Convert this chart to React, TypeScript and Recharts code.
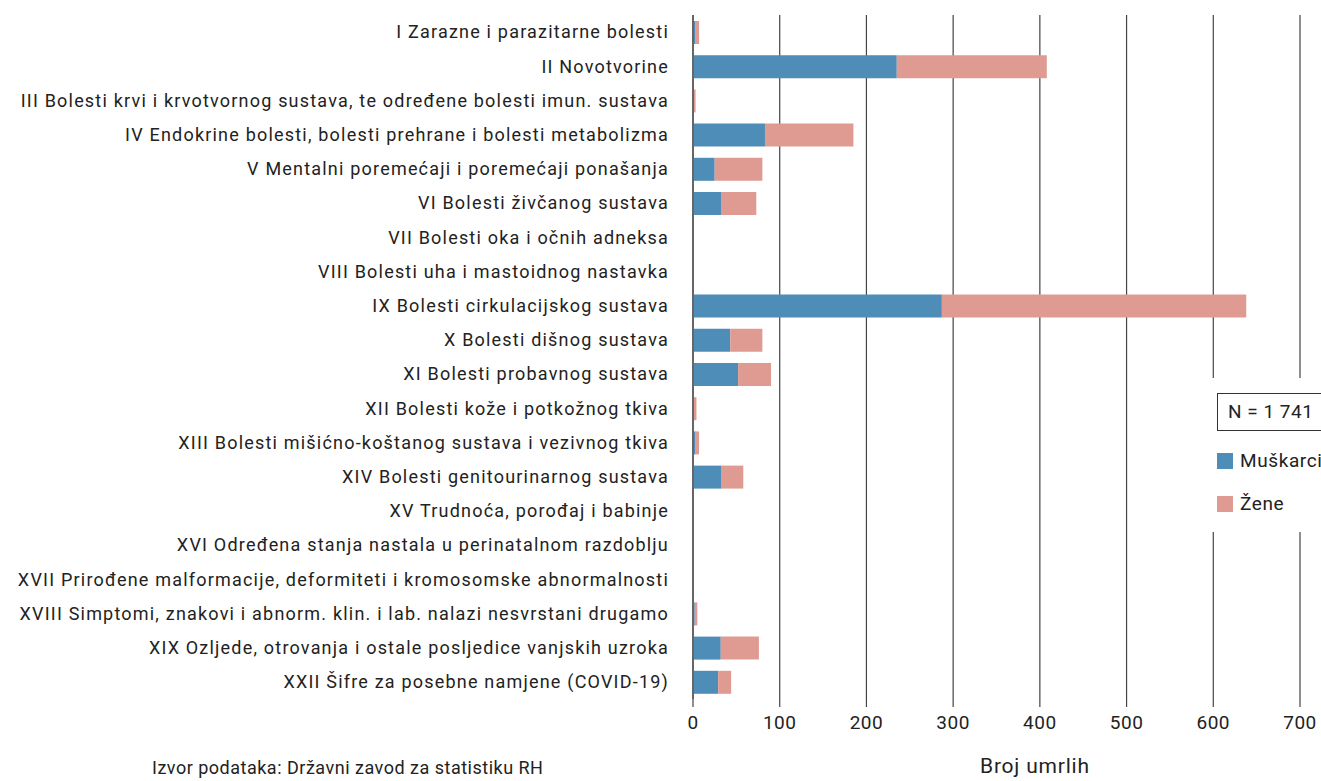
import { BarChart, Bar, XAxis, YAxis, CartesianGrid } from 'recharts'

const categories = [
  'I Zarazne i parazitarne bolesti',
  'II Novotvorine',
  'III Bolesti krvi i krvotvornog sustava, te određene bolesti imun. sustava',
  'IV Endokrine bolesti, bolesti prehrane i bolesti metabolizma',
  'V Mentalni poremećaji i poremećaji ponašanja',
  'VI Bolesti živčanog sustava',
  'VII Bolesti oka i očnih adneksa',
  'VIII Bolesti uha i mastoidnog nastavka',
  'IX Bolesti cirkulacijskog sustava',
  'X Bolesti dišnog sustava',
  'XI Bolesti probavnog sustava',
  'XII Bolesti kože i potkožnog tkiva',
  'XIII Bolesti mišićno-koštanog sustava i vezivnog tkiva',
  'XIV Bolesti genitourinarnog sustava',
  'XV Trudnoća, porođaj i babinje',
  'XVI Određena stanja nastala u perinatalnom razdoblju',
  'XVII Prirođene malformacije, deformiteti i kromosomske abnormalnosti',
  'XVIII Simptomi, znakovi i abnorm. klin. i lab. nalazi nesvrstani drugamo',
  'XIX Ozljede, otrovanja i ostale posljedice vanjskih uzroka',
  'XXII Šifre za posebne namjene (COVID-19)',
]

const muskarci = [3, 235, 0, 83, 25, 33, 0, 0, 287, 43, 52, 0, 3, 33, 0, 0, 0, 2, 32, 29]
const zene = [4, 173, 3, 102, 55, 40, 0, 0, 351, 37, 38, 4, 4, 25, 0, 0, 0, 3, 44, 15]

const xTicks = [0, 100, 200, 300, 400, 500, 600, 700]

const BLUE = '#4e8db8'
const PINK = '#df9b91'
const FONT = 'Roboto, "Noto Sans", sans-serif'

const data = categories.map((name, i) => ({ name, m: muskarci[i], z: zene[i] }))

export default function App() {
  return (
    <div style={{ position: 'relative', width: 1321, height: 781, overflow: 'hidden', fontFamily: FONT, background: '#fff' }}>
      <style>{'body{margin:0}'}</style>
      <BarChart
        width={1321}
        height={781}
        layout="vertical"
        data={data}
        margin={{ top: 15, right: 21, bottom: 52, left: 0 }}
        barCategoryGap={11}
      >
        <CartesianGrid horizontal={false} vertical stroke="#444" strokeWidth={1.2} />
        <XAxis
          type="number"
          domain={[0, 700]}
          ticks={xTicks}
          axisLine={false}
          tickSize={8}
          tickLine={{ stroke: '#444', strokeWidth: 1.2 }}
          tickMargin={9}
          height={30}
          tick={{ fill: '#222', fontSize: 19, fontFamily: FONT, letterSpacing: 0.5 }}
          interval={0}
        />
        <YAxis
          type="category"
          dataKey="name"
          width={693}
          axisLine={{ stroke: '#666', strokeWidth: 2 }}
          tickLine={false}
          tickSize={0}
          tickMargin={24}
          interval={0}
          tick={{ fill: '#222', fontSize: 18, fontFamily: FONT, letterSpacing: 1.2 }}
        />
        <Bar dataKey="m" stackId="a" fill={BLUE} barSize={23} isAnimationActive={false} />
        <Bar dataKey="z" stackId="a" fill={PINK} barSize={23} isAnimationActive={false} />
      </BarChart>

      <div style={{ position: 'absolute', left: 1205, top: 378, width: 130, height: 154, background: '#fff' }}>
        <div style={{ position: 'absolute', left: 12, top: 15, width: 120, height: 38, border: '1px solid #333', boxSizing: 'border-box', fontSize: 19, color: '#222', lineHeight: '36px', paddingLeft: 10, letterSpacing: 0.5 }}>
          N = 1 741
        </div>
        <div style={{ position: 'absolute', left: 12, top: 75, width: 16, height: 16, background: BLUE }} />
        <div style={{ position: 'absolute', left: 35, top: 72, fontSize: 19, color: '#222', lineHeight: '22px', letterSpacing: 0.6 }}>Muškarci</div>
        <div style={{ position: 'absolute', left: 12, top: 118, width: 16, height: 16, background: PINK }} />
        <div style={{ position: 'absolute', left: 35, top: 115, fontSize: 19, color: '#222', lineHeight: '22px', letterSpacing: 0.6 }}>Žene</div>
      </div>

      <div style={{ position: 'absolute', left: 980, top: 754, fontSize: 21, color: '#222', lineHeight: '24px', letterSpacing: 0.8 }}>Broj umrlih</div>
      <div style={{ position: 'absolute', left: 152, top: 756, fontSize: 18, color: '#222', lineHeight: '24px', letterSpacing: 0.5 }}>
        Izvor podataka: Državni zavod za statistiku RH
      </div>
    </div>
  )
}
